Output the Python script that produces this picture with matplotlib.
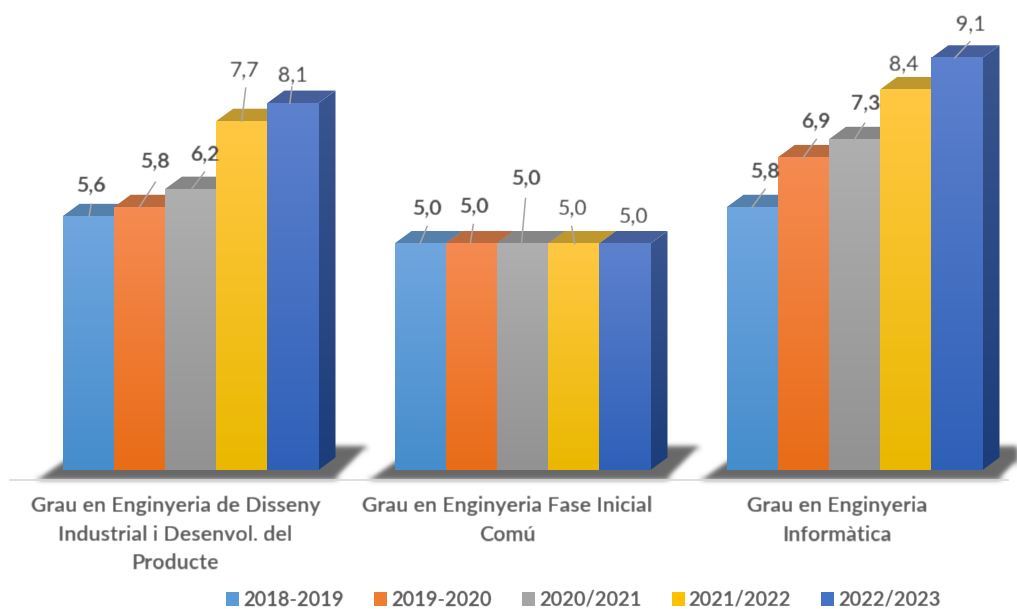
import matplotlib
matplotlib.use('Agg')
import numpy as np
import matplotlib.pyplot as plt
from matplotlib.colors import LinearSegmentedColormap
from matplotlib.patches import Polygon

categories = ['Grau en Enginyeria de Disseny\nIndustrial i Desenvol. del\nProducte',
              'Grau en Enginyeria Fase Inicial\nComú',
              'Grau en Enginyeria\nInformàtica']
series = ['2018-2019', '2019-2020', '2020/2021', '2021/2022', '2022/2023']
v_2018 = [5.6, 5.0, 5.8]
v_2019 = [5.8, 5.0, 6.9]
v_2020 = [6.2, 5.0, 7.3]
v_2021 = [7.7, 5.0, 8.4]
v_2022 = [8.1, 5.0, 9.1]
values = [v_2018, v_2019, v_2020, v_2021, v_2022]

# colours: legend/mid, gradient top, gradient bottom, top face
mid = ['#5B9BD5', '#ED7D31', '#A5A5A5', '#FFC000', '#4472C4']
grad_top = ['#70A6DF', '#F58B52', '#AFAFAF', '#FFC843', '#5D81CD']
grad_bot = ['#458DCC', '#E96C17', '#929292', '#EAB800', '#2F60B8']
top_face = ['#5680AC', '#BA6A3C', '#868686', '#BE982F', '#465F9B']

# pixels per unit
PX_X = 332.0
PX_Y = 45.3
BASE = 470.0
BAR_W = 51.2 / PX_X
DX = 17.0 / PX_X
DY = 12.5 / PX_Y
CENTER0 = 190.5

# label offset from bar top centre, pixels (dx, dy), per group and series
label_off = [[(3, 30), (16, 45), (14, 34), (3, 51), (0, 28)],
             [(7, 35), (2, 37), (3, 65), (-1, 35), (9, 27)],
             [(13, 35), (13, 35), (11, 35), (-2, 25), (14, 34)]]
# leader line: start dx, end dx, end dy, pixels
leader = [[(1, 3, 12), (0, 16, 25), (1, 14, 17), (0, 4, 33), (-3, -1, 16)],
          [(0, 7, 17), (-1, 2, 19), (-1, 3, 45), (1, -2, 17), None],
          [(0, 13, 18), (0, 13, 18), (0, 10, 16), None, (-2, 13, 16)]]


def blur(sigma):
    def f(img, dpi):
        pad = int(sigma * 4) + 1
        out = np.pad(img, ((pad, pad), (pad, pad), (0, 0)))
        k = np.exp(-0.5 * (np.arange(-pad, pad + 1) / sigma) ** 2)
        k = k / k.sum()
        for c in range(4):
            out[:, :, c] = np.apply_along_axis(lambda m: np.convolve(m, k, mode='same'), 0, out[:, :, c])
            out[:, :, c] = np.apply_along_axis(lambda m: np.convolve(m, k, mode='same'), 1, out[:, :, c])
        return out, -pad, -pad
    return f


plt.rcParams['font.family'] = ['Lato', 'DejaVu Sans']
fig = plt.figure(figsize=(10.17, 6.09), dpi=100)
ax = fig.add_axes([0, 0, 1, 1])
xlim = (-CENTER0 / PX_X, (1017 - CENTER0) / PX_X)
ylim = ((BASE - 609) / PX_Y, BASE / PX_Y)
ax.axis('off')

n = len(series)
group_x = np.arange(len(categories))
x0s = group_x - n * BAR_W / 2

# floor shadows
for x0 in x0s:
    x1 = x0 + n * BAR_W
    low = -9.0 / PX_Y
    pts = [(x0 - 26 / PX_X, low), (x0 + 20 / PX_X, 23 / PX_Y), (x1 + 49 / PX_X, 23 / PX_Y), (x1 + 17 / PX_X, low)]
    p = Polygon(pts, closed=True, facecolor='#686868', edgecolor='none', zorder=1)
    p.set_agg_filter(blur(2.6))
    ax.add_patch(p)

# axis line
ax.plot([(10 - CENTER0) / PX_X, (1008 - CENTER0) / PX_X], [-10.0 / PX_Y, -10.0 / PX_Y],
        color='#D9D9D9', lw=1.2, zorder=1.5)

side_cmap = LinearSegmentedColormap.from_list('side', ['#1C3D7A', '#3A5590'])
for s in range(n):
    xs = group_x - n * BAR_W / 2 + (s + 0.5) * BAR_W
    z = 2 + s
    bars = ax.bar(xs, values[s], BAR_W, color=mid[s], label=series[s], zorder=z)
    cmap = LinearSegmentedColormap.from_list('g', [grad_bot[s], grad_top[s]])
    grad = np.linspace(0, 1, 128).reshape(-1, 1)
    for g, b in enumerate(bars):
        xa, v = b.get_x(), b.get_height()
        xb = xa + BAR_W
        ax.imshow(grad, cmap=cmap, origin='lower', aspect='auto', extent=(xa, xb, 0, v),
                  interpolation='bilinear', zorder=z + 0.1)
        # side and top faces
        side = np.array([(xb, 0), (xb + DX, DY), (xb + DX, v + DY), (xb, v)])
        side_p = Polygon(side, closed=True, facecolor='none', edgecolor='none', zorder=z - 0.1)
        ax.add_patch(side_p)
        im = ax.imshow(grad, cmap=side_cmap, origin='lower', aspect='auto', extent=(xb, xb + DX, 0, v + DY),
                       interpolation='bilinear', zorder=z - 0.1)
        im.set_clip_path(side_p)
        top = np.array([(xa, v), (xa + DX, v + DY), (xb + DX, v + DY), (xb, v)])
        ax.add_patch(Polygon(top, closed=True, facecolor=top_face[s], edgecolor='none', zorder=z - 0.05))

# labels go above everything
for s in range(n):
    xs = group_x - n * BAR_W / 2 + (s + 0.5) * BAR_W
    for g in range(len(categories)):
        v = values[s][g]
        bold = s < 3
        txt = ('%.1f' % v).replace('.', ',')
        off = label_off[g][s]
        t = ax.annotate(txt, xy=(xs[g], v), xytext=off, textcoords='offset pixels', ha='center', va='center',
                        fontsize=15.2, fontweight='bold' if bold else 'medium',
                        color='#404040', zorder=20)
        t.set_agg_filter(blur(0.5))
        if leader[g][s] is not None:
            a, b, c = leader[g][s]
            ax.plot([xs[g] + a / PX_X, xs[g] + b / PX_X], [v, v + c / PX_Y], color='#A6A6A6', lw=1.1, zorder=19)

centers = [175.5, 507, 837]
for i, cat in enumerate(categories):
    t = ax.text((centers[i] - CENTER0) / PX_X, (BASE - 496) / PX_Y, cat, ha='center', va='top',
                fontsize=15.4, fontweight='bold', color='#595959', linespacing=1.54)
    t.set_agg_filter(blur(0.6))

leg = ax.legend(loc='center', bbox_to_anchor=(583.5 / 1017, 1 - 600 / 609), ncol=5, frameon=False,
                fontsize=14.5, handlelength=0.65, handleheight=0.65, handletextpad=0.2,
                columnspacing=1.5, borderpad=0, borderaxespad=0)
for t in leg.get_texts():
    t.set_fontweight('bold')
    t.set_color('#595959')
    t.set_agg_filter(blur(0.5))

ax.set_xlim(xlim)
ax.set_ylim(ylim)
plt.savefig('out.png', dpi=100)
